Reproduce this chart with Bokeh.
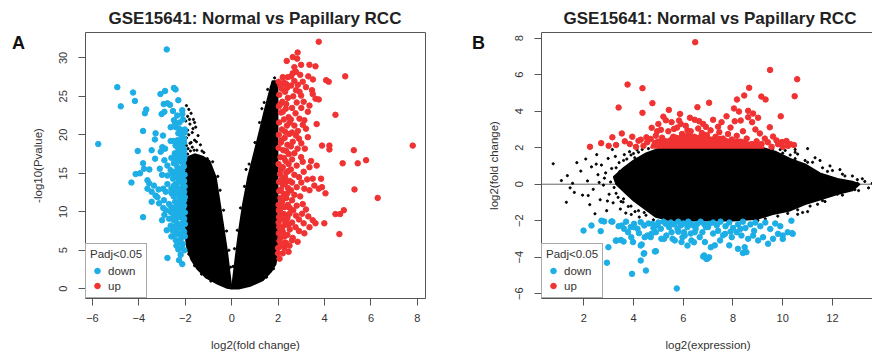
from bokeh.plotting import figure
from bokeh.models import Range1d, FixedTicker, Legend, LegendItem, Span, Div
from bokeh.layouts import row
from bokeh.embed import file_html
from bokeh.resources import INLINE

FONT = "Liberation Sans"
BLUE = "#1DAEE6"
RED = "#F03232"
TITLE = "GSE15641: Normal vs Papillary RCC"

# ---------------- Panel A: volcano plot ----------------
a_x_ticks = [-6, -4, -2, 0, 2, 4, 6, 8]
a_y_ticks = [0, 5, 10, 15, 20, 25, 30]
a_xlabel = "log2(fold change)"
a_ylabel = "-log10(Pvalue)"

a_blue = [(-2.80, 31.1), (-4.93, 26.2), (-4.25, 25.5), (-4.17, 24.4), (-4.78, 23.7), (-3.07, 25.3), (-2.87, 25.7),
          (-2.49, 26.1), (-2.42, 25.9), (-2.30, 24.5), (-2.93, 24.0), (-2.77, 24.1), (-2.66, 23.9), (-3.68, 23.3),
          (-3.74, 22.8), (-3.02, 22.7), (-2.90, 23.0), (-2.53, 23.1), (-2.13, 23.2), (-2.13, 22.7), (-2.49, 21.9),
          (-2.44, 21.5), (-2.63, 21.0), (-2.41, 21.0), (-2.27, 20.8), (-2.13, 20.6), (-2.02, 20.7), (-3.82, 20.5),
          (-3.28, 20.2), (-3.31, 19.4), (-2.96, 19.9), (-2.63, 19.2), (-2.51, 19.2), (-2.34, 19.3), (-2.20, 19.3),
          (-2.16, 18.6), (-5.75, 18.8), (-4.05, 17.9), (-3.45, 18.0), (-2.99, 18.4), (-2.87, 18.2), (-3.06, 17.8),
          (-2.30, 18.2), (-2.18, 17.9), (-2.08, 17.6), (-2.34, 17.4), (-2.16, 17.1), (-2.05, 16.8), (-2.27, 16.6),
          (-2.10, 16.3), (-3.82, 16.3), (-3.78, 15.6), (-3.95, 15.0), (-4.14, 14.9), (-4.32, 13.8), (-3.63, 14.1),
          (-3.56, 13.7), (-3.35, 13.4), (-3.63, 13.0), (-3.45, 12.6), (-3.28, 12.1), (-3.20, 11.9), (-3.45, 11.3),
          (-3.13, 11.1), (-3.82, 9.3), (-2.77, 16.0), (-2.63, 15.4), (-2.49, 16.3), (-2.34, 15.8), (-2.77, 14.7),
          (-2.53, 14.3), (-2.27, 15.0), (-2.13, 15.4), (-2.77, 13.6), (-2.49, 13.4), (-2.27, 13.9), (-2.13, 13.2),
          (-2.84, 12.6), (-2.59, 12.4), (-2.34, 12.6), (-2.13, 12.1), (-2.92, 11.5), (-2.70, 11.0), (-2.44, 11.3),
          (-2.23, 10.8), (-2.05, 11.5), (-2.84, 10.2), (-2.63, 9.97), (-2.38, 10.2), (-2.16, 9.75), (-2.70, 9.1),
          (-2.49, 8.9), (-2.27, 9.3), (-2.05, 9.1), (-2.63, 8.2), (-2.41, 7.8), (-2.20, 8.2), (-2.49, 6.9),
          (-2.27, 7.1), (-2.05, 7.4), (-2.41, 6.3), (-2.20, 6.5), (-2.77, 4.0), (-2.27, 3.7), (-2.13, 3.2),
          (-2.60, 17.0), (-2.40, 16.9), (-2.55, 14.9), (-2.40, 14.6), (-2.20, 14.4), (-2.05, 14.0), (-2.60, 13.0),
          (-2.35, 13.1), (-2.05, 12.6), (-2.50, 12.0), (-2.25, 11.7), (-2.60, 10.6), (-2.40, 10.6), (-2.10, 10.4),
          (-2.50, 9.5), (-2.30, 9.9), (-2.10, 8.6), (-2.35, 8.5), (-2.55, 7.6), (-2.15, 7.0), (-2.30, 6.0),
          (-2.10, 5.8), (-2.15, 5.3), (-2.30, 5.1), (-2.95, 13.0), (-3.00, 14.8), (-3.10, 15.6), (-2.90, 16.7),
          (-3.30, 16.9), (-3.55, 15.5), (-2.95, 10.5), (-3.00, 8.9), (-2.80, 7.6), (-2.60, 6.8), (-2.90, 9.6),
          (-3.15, 12.9), (-2.15, 19.8), (-2.05, 19.0), (-2.25, 21.6), (-2.10, 22.0), (-2.35, 22.5), (-2.05, 18.0),
          (-2.02, 20.3), (-2.15, 20.0), (-2.30, 20.2), (-2.05, 19.5), (-2.28, 18.8), (-2.42, 18.6), (-2.10, 18.3),
          (-2.25, 17.8), (-2.45, 17.6), (-2.03, 17.2), (-2.22, 16.9), (-2.38, 16.4), (-2.06, 15.9), (-2.20, 15.6),
          (-2.43, 15.2), (-2.03, 14.8), (-2.30, 14.3), (-2.12, 13.7), (-2.40, 13.6), (-2.03, 13.3), (-2.25, 12.9),
          (-2.43, 12.6), (-2.10, 12.3), (-2.30, 12.1), (-2.02, 11.9), (-2.18, 11.3), (-2.35, 11.0), (-2.05, 10.8),
          (-2.25, 10.3), (-2.45, 10.0), (-2.02, 9.9), (-2.20, 9.5), (-2.38, 9.2), (-2.10, 9.1), (-2.02, 8.4),
          (-2.25, 8.0), (-2.45, 8.1), (-2.10, 7.6), (-2.35, 7.3), (-2.02, 6.8), (-2.20, 6.1), (-2.38, 5.6),
          (-2.04, 5.0), (-2.20, 4.4)]

a_red = [(3.75, 32.1), (2.84, 30.7), (2.63, 30.1), (2.82, 29.9), (2.37, 29.6), (3.35, 29.1), (3.61, 28.9),
         (2.70, 28.8), (2.99, 29.1), (2.77, 28.2), (2.63, 28.0), (2.56, 27.6), (4.89, 27.6), (2.20, 27.5),
         (2.41, 27.5), (3.06, 26.9), (4.07, 27.1), (4.18, 26.9), (2.10, 26.4), (2.35, 26.6), (2.56, 26.4),
         (2.77, 25.8), (3.46, 25.8), (3.49, 25.3), (2.92, 25.6), (2.99, 25.1), (3.61, 24.7), (3.75, 24.6),
         (3.35, 23.8), (3.28, 23.0), (4.47, 22.6), (2.92, 22.1), (3.13, 21.9), (3.06, 21.3), (3.66, 21.4),
         (3.28, 19.7), (2.77, 19.9), (2.63, 19.1), (3.89, 18.6), (4.21, 18.6), (4.21, 18.1), (5.26, 18.0),
         (7.80, 18.6), (2.84, 18.2), (2.99, 17.1), (3.42, 16.6), (4.78, 16.3), (5.43, 16.3), (5.79, 16.7),
         (3.66, 16.0), (3.06, 16.5), (3.35, 15.8), (3.49, 14.3), (3.85, 14.3), (3.89, 13.2), (3.75, 13.0),
         (4.04, 12.4), (3.56, 13.4), (3.13, 13.0), (3.35, 12.8), (5.29, 12.9), (6.29, 11.8), (3.06, 11.0),
         (3.03, 9.75), (2.77, 9.5), (2.49, 9.75), (3.49, 8.9), (3.61, 8.5), (3.99, 8.5), (3.35, 8.0),
         (4.47, 9.7), (4.67, 9.7), (4.83, 10.2), (4.64, 7.1), (3.13, 7.2), (2.84, 6.1), (2.63, 6.6),
         (2.49, 5.6), (2.27, 5.3), (2.00, 4.6), (2.06, 3.9), (2.70, 27.0), (2.85, 26.5), (2.65, 25.0),
         (2.80, 24.2), (2.60, 23.5), (2.75, 22.8), (2.55, 22.0), (2.70, 21.2), (2.85, 20.5), (2.60, 20.3),
         (2.90, 19.5), (2.55, 18.5), (2.70, 17.6), (2.60, 16.8), (2.80, 16.0), (2.55, 15.5), (2.70, 14.8),
         (2.90, 14.5), (2.60, 13.8), (2.80, 13.2), (2.55, 12.8), (2.70, 12.2), (2.95, 12.0), (2.60, 11.5),
         (2.80, 10.8), (2.50, 10.5), (2.65, 10.2), (2.40, 9.2), (2.90, 9.0), (2.60, 8.6), (2.30, 8.3),
         (2.75, 8.0), (2.50, 7.7), (2.20, 7.4), (2.90, 7.5), (2.40, 7.0), (2.10, 6.6), (2.60, 6.3),
         (2.30, 6.0), (2.10, 5.6), (2.45, 4.8), (2.20, 4.6), (3.20, 10.3), (3.30, 9.4), (3.10, 8.5),
         (3.25, 14.2), (3.10, 15.2), (3.00, 13.8), (3.20, 20.8), (3.00, 23.5), (3.10, 24.3), (3.20, 26.2),
         (2.95, 27.8), (3.30, 27.6), (3.50, 27.2), (3.00, 18.9), (3.15, 18.2), (2.10, 9.8), (2.20, 9.0),
         (2.05, 8.0), (2.15, 11.2), (2.35, 11.8), (2.02, 26.9), (2.15, 26.0), (2.30, 25.6), (2.05, 25.2),
         (2.42, 24.8), (2.18, 24.3), (2.03, 23.7), (2.33, 23.4), (2.12, 22.9), (2.45, 22.3), (2.25, 22.0),
         (2.04, 21.6), (2.38, 21.2), (2.16, 20.7), (2.48, 20.1), (2.03, 20.0), (2.28, 19.6), (2.12, 19.0),
         (2.40, 18.7), (2.02, 18.3), (2.22, 18.0), (2.46, 17.5), (2.10, 17.1), (2.32, 16.6), (2.02, 16.2),
         (2.20, 15.8), (2.44, 15.3), (2.08, 14.9), (2.30, 14.5), (2.04, 13.9), (2.20, 13.5), (2.42, 13.1),
         (2.05, 12.7), (2.26, 12.3), (2.10, 11.8), (2.02, 10.9), (2.28, 10.6), (2.03, 10.2), (2.25, 9.7),
         (2.04, 9.3), (2.35, 8.8), (2.02, 8.6), (2.18, 8.0), (2.03, 7.2), (2.28, 6.8), (2.06, 6.2),
         (2.35, 5.9), (2.00, 5.3), (2.25, 26.8), (2.38, 26.1), (2.10, 24.0), (2.35, 24.0), (2.20, 23.0),
         (2.50, 21.6), (2.30, 20.4), (2.15, 19.3), (2.35, 17.9), (2.25, 17.0), (2.45, 16.2), (2.12, 15.5),
         (2.35, 15.1), (2.15, 14.2), (2.50, 14.0), (2.32, 13.8), (2.12, 12.9), (2.40, 12.4), (2.18, 11.4),
         (2.42, 10.9), (2.10, 10.4), (2.15, 7.6), (2.45, 8.3)]

a_black = [(-1.95, 23.8), (-1.85, 23.3), (-1.75, 22.8), (-1.90, 22.4), (-1.65, 22.0), (-1.98, 21.8), (-1.80, 21.4),
           (-1.55, 21.0), (-1.90, 20.6), (-1.70, 20.3), (-1.45, 19.9), (-1.95, 19.6), (-1.60, 19.3), (-1.80, 18.9),
           (-1.35, 18.7), (-1.70, 18.4), (-1.50, 18.0), (-1.20, 17.7), (-1.90, 17.5), (-1.40, 17.2), (-1.05, 16.9),
           (-1.60, 16.7), (-1.30, 16.4), (-1.75, 19.0), (-1.60, 21.6), (-1.85, 20.0), (-0.12, 5.0), (-0.22, 7.5),
           (-0.35, 10.2), (-0.50, 12.8), (-0.60, 14.6), (-0.82, 16.5), (-0.05, 2.8), (0.12, 5.2), (0.24, 7.6),
           (0.38, 10.5), (0.55, 13.3), (0.75, 16.2), (1.00, 19.0), (1.20, 21.6), (1.40, 24.2), (0.06, 2.9),
           (0.62, 15.5), (1.95, 3.8), (1.80, 2.6), (1.50, 1.5), (-1.85, 4.5), (-1.60, 3.0), (-1.30, 1.9),
           (-0.90, 1.0), (1.85, 27.4), (1.70, 26.2), (1.55, 25.9), (1.30, 23.4), (-1.88, 18.2), (-1.62, 18.0),
           (-1.78, 17.9), (-1.52, 19.1), (-1.28, 17.9), (-1.95, 18.6), (-1.67, 20.8), (-1.82, 22.0)]

a_left_arm = [(-2.0, 17.0), (-2.0, 7.0), (-1.92, 5.2), (-1.75, 3.8), (-1.5, 2.6), (-1.1, 1.4), (-0.6, 0.6),
              (-0.2, 0.1), (0.0, 0.0), (-0.08, 2.0), (-0.2, 5.0), (-0.35, 8.0), (-0.5, 11.0), (-0.68, 14.5),
              (-0.95, 16.6), (-1.25, 17.2), (-1.6, 17.5)]
a_right_arm = [(0.0, 0.0), (0.08, 2.0), (0.2, 5.0), (0.33, 8.0), (0.48, 11.0), (0.7, 14.5), (0.95, 17.5),
               (1.2, 20.5), (1.4, 23.0), (1.6, 25.3), (1.75, 27.0), (1.95, 27.0), (1.98, 26.0), (1.98, 5.0),
               (1.9, 3.2), (1.7, 2.2), (1.35, 1.1), (0.8, 0.35), (0.3, 0.0)]

# ---------------- Panel B: MA plot ----------------
b_x_ticks = [2, 4, 6, 8, 10, 12]
b_y_ticks = [-6, -4, -2, 0, 2, 4, 6, 8]
b_xlabel = "log2(expression)"
b_ylabel = "log2(fold change)"

b_red = [(6.48, 7.78), (3.76, 5.46), (4.36, 5.26), (4.76, 4.44), (3.40, 4.20), (4.36, 3.91), (5.42, 4.07),
         (5.87, 3.85), (6.57, 4.22), (7.04, 4.46), (5.20, 3.70), (5.30, 3.50), (5.53, 3.40), (5.83, 3.49),
         (6.27, 3.64), (6.46, 3.53), (6.64, 3.45), (4.73, 3.09), (5.10, 2.98), (5.63, 3.03), (6.17, 2.95),
         (6.91, 3.14), (3.15, 2.57), (3.53, 2.78), (4.52, 2.57), (4.69, 2.48), (4.90, 2.66), (4.20, 2.38),
         (4.29, 2.44), (2.25, 2.05), (9.49, 6.26), (10.58, 5.75), (10.48, 4.82), (8.65, 5.28), (8.45, 4.86),
         (8.16, 4.64), (9.14, 4.80), (9.31, 4.64), (8.04, 4.15), (8.24, 3.98), (8.61, 4.02), (8.81, 3.87),
         (9.92, 3.72), (7.20, 3.53), (7.54, 3.40), (7.74, 3.72), (8.07, 3.45), (8.31, 3.49), (8.61, 3.67),
         (8.77, 3.40), (9.01, 3.64), (9.48, 3.12), (9.61, 2.61), (9.08, 2.78), (9.28, 2.50), (9.97, 2.31),
         (10.15, 2.37), (10.32, 2.19), (10.21, 2.10), (9.81, 2.19), (4.40, 2.10), (4.55, 2.30), (4.95, 2.90),
         (5.15, 2.55), (5.40, 2.90), (5.60, 2.60), (5.75, 3.10), (5.95, 2.75), (6.10, 3.20), (6.30, 2.90),
         (6.45, 2.60), (6.60, 3.05), (6.75, 2.80), (6.95, 2.70), (7.10, 2.95), (7.30, 2.60), (7.45, 2.85),
         (7.60, 2.50), (7.80, 2.75), (7.95, 2.45), (8.15, 2.65), (8.35, 2.30), (8.55, 2.50), (8.75, 2.20),
         (8.95, 2.35), (9.15, 2.20), (9.40, 2.30), (9.55, 2.05), (9.75, 2.40), (10.00, 2.05), (10.45, 2.15),
         (3.85, 2.20), (4.10, 2.05), (3.95, 2.60), (3.65, 2.35), (2.70, 2.25), (3.00, 2.10), (5.00, 3.30),
         (5.90, 3.30), (6.80, 3.30), (7.40, 3.15), (7.90, 3.10), (8.40, 2.90), (8.90, 3.00), (3.30, 2.15)]

b_blue = [(1.99, -2.54), (2.31, -2.26), (2.68, -2.57), (2.82, -2.04), (3.15, -2.05), (2.99, -3.45), (2.93, -4.30),
          (3.29, -3.09), (3.49, -3.05), (3.60, -3.14), (3.53, -2.26), (3.62, -2.44), (3.78, -2.63), (3.89, -2.35),
          (4.02, -2.17), (4.16, -2.44), (4.22, -2.68), (4.29, -2.08), (4.43, -2.26), (4.56, -2.81), (4.69, -2.90),
          (4.90, -2.63), (4.76, -2.17), (4.96, -2.26), (5.10, -2.44), (5.30, -2.17), (5.43, -2.35), (5.53, -2.63),
          (5.63, -2.20), (5.77, -2.44), (5.90, -2.26), (6.03, -2.63), (6.17, -2.35), (6.30, -2.17), (6.50, -2.44),
          (6.57, -2.17), (6.77, -2.63), (6.91, -2.35), (7.04, -2.17), (4.29, -3.36), (4.43, -3.78), (4.29, -4.18),
          (4.90, -3.67), (3.94, -4.91), (5.74, -5.71), (6.17, -3.36), (6.84, -3.90), (6.97, -4.08), (5.23, -2.99),
          (5.57, -2.99), (5.97, -2.90), (6.43, -3.18), (2.71, -2.00), (3.11, -2.04), (3.31, -3.08), (4.41, -3.81),
          (4.50, -4.73), (4.86, -3.68), (4.33, -3.30), (3.98, -3.17), (3.91, -2.90), (4.45, -2.90), (4.72, -2.72),
          (5.12, -2.99), (5.32, -2.81), (5.66, -3.08), (5.93, -3.17), (6.06, -2.81), (6.33, -3.08), (6.46, -2.63),
          (6.66, -2.90), (6.87, -3.17), (6.80, -3.96), (6.93, -4.09), (7.04, -4.00), (7.11, -3.45), (7.27, -3.35),
          (7.85, -3.35), (7.48, -3.08), (8.20, -3.54), (8.40, -3.77), (8.47, -3.45), (8.54, -3.72), (7.68, -2.72),
          (7.95, -2.90), (8.15, -2.63), (8.34, -2.81), (8.61, -2.99), (8.81, -2.81), (9.01, -3.08), (9.21, -2.90),
          (9.41, -3.26), (9.61, -2.99), (9.81, -2.72), (10.00, -2.81), (10.20, -2.63), (10.40, -2.72),
          (10.00, -3.00), (10.38, -2.68), (10.35, -2.00), (5.20, -2.05), (5.50, -2.10), (5.80, -2.05),
          (6.00, -2.15), (6.20, -2.05), (6.40, -2.25), (6.70, -2.05), (6.85, -2.20), (7.00, -2.35), (7.20, -2.10),
          (7.35, -2.25), (7.50, -2.05), (7.70, -2.30), (7.85, -2.10), (8.00, -2.40), (8.20, -2.20), (8.40, -2.05),
          (8.50, -2.40), (8.70, -2.20), (8.90, -2.10), (9.10, -2.30), (9.30, -2.10), (9.50, -2.45), (9.70, -2.15),
          (9.90, -2.30), (3.70, -2.05), (4.00, -2.35), (4.60, -2.15), (4.80, -2.40), (5.00, -2.10), (7.40, -2.55),
          (7.90, -2.60), (8.30, -2.45), (7.20, -2.70), (6.30, -2.70), (5.80, -2.60), (7.60, -2.80), (8.85, -2.55),
          (3.40, -2.30)]

b_black = [(0.77, 1.12), (1.30, -0.99), (1.34, 0.47), (1.55, 0.05), (1.62, -0.45), (1.88, 0.72), (1.95, -0.60),
           (2.08, 1.38), (2.15, 0.18), (2.24, -1.12), (2.31, 0.95), (2.38, -0.28), (2.52, 1.62), (2.57, 0.52),
           (2.66, -0.85), (2.71, 1.05), (2.79, -0.05), (2.83, 0.33), (2.92, -1.45), (2.98, 1.41), (3.02, -0.55),
           (3.08, 0.12), (3.12, 0.86), (3.18, -1.02), (3.22, -0.18), (3.27, 1.52), (3.31, 0.38), (3.38, -0.72),
           (3.42, 1.18), (3.47, -1.36), (3.52, 0.64), (3.58, -0.98), (3.63, 1.62), (3.69, -1.58), (3.73, 1.38),
           (3.79, -1.22), (3.84, 1.78), (3.91, -1.66), (4.00, 1.68), (4.06, -1.50), (4.14, 1.88), (4.23, -1.80),
           (4.35, 1.90), (4.43, -1.55), (2.45, -1.62), (1.72, 1.18), (2.18, -0.62), (2.62, 0.10), (2.88, 0.62),
           (1.45, -0.20), (2.95, -0.92), (3.55, 0.10), (3.15, 1.90), (2.50, 1.10), (1.10, 0.20),
           (3.30, 0.90), (3.60, 1.30), (3.90, 1.60), (4.20, 1.75), (4.60, 1.95), (3.45, 0.70), (4.05, 1.45),
           (3.30, -0.50), (3.60, -0.80), (3.90, -1.20), (4.20, -1.45), (4.50, -1.70), (4.80, -1.95), (3.50, -0.95),
           (9.30, -1.90), (9.80, -1.75), (10.20, -1.60), (10.60, -1.40), (11.10, -1.20), (11.70, -0.95),
           (12.40, -0.60), (9.00, -1.98), (9.60, 1.95), (10.00, 1.70), (10.50, 1.40), (11.00, 1.20),
           (11.80, 0.70), (12.50, 0.45), (13.00, 0.25), (11.20, 1.20), (11.60, 0.90), (12.00, 0.75),
           (12.40, 0.55), (12.80, 0.45), (13.20, 0.30), (13.30, 0.15), (12.90, -0.30), (12.20, -0.55),
           (11.60, -0.90), (11.00, -1.50), (10.60, -1.65), (10.90, 1.30), (10.30, 1.60), (10.10, 1.85),
           (10.60, 1.65), (9.90, 1.90), (11.40, -1.10), (12.60, 0.10), (13.00, 0.05), (11.90, 1.00),
           (10.80, -1.55), (10.50, 1.75), (11.30, 1.45), (12.30, 0.80), (10.50, 1.90), (11.00, 1.95),
           (11.50, 1.30), (13.05, -0.35), (13.60, 0.05), (13.45, -0.20)]

b_cloud = [(3.2, 0.4), (3.6, 0.9), (4.0, 1.3), (4.5, 1.7), (5.0, 1.95), (5.5, 2.0), (9.2, 2.0), (9.7, 1.8),
           (10.3, 1.4), (10.9, 1.1), (11.5, 0.6), (12.2, 0.3), (12.8, 0.15), (13.1, 0.0), (12.8, -0.35),
           (12.2, -0.55), (11.5, -0.85), (10.9, -1.1), (10.3, -1.45), (9.6, -1.65), (9.0, -1.9), (8.0, -2.0),
           (5.5, -2.0), (4.9, -1.8), (4.5, -1.4), (4.0, -0.9), (3.6, -0.4), (3.3, 0.0)]
b_red_band = [(4.7, 2.0), (4.8, 2.35), (5.1, 2.5), (5.4, 2.45), (5.6, 2.7), (5.9, 2.6), (6.2, 2.8), (6.5, 2.6),
              (6.8, 2.75), (7.1, 2.55), (7.5, 2.6), (7.9, 2.4), (8.3, 2.45), (8.7, 2.25), (9.0, 2.2), (9.25, 2.0)]

legend_title = "Padj<0.05"
legend_labels = ["down", "up"]
panel_letters = ["A", "B"]


def xs(pts):
    return [p[0] for p in pts]


def ys(pts):
    return [p[1] for p in pts]


def make_panel(xr, yr, xt, yt, xlabel, ylabel, fw, bl, br, title_offset, ylab_standoff):
    p = figure(frame_width=fw, frame_height=266, x_range=Range1d(*xr), y_range=Range1d(*yr),
               output_backend="svg", toolbar_location=None, title=TITLE,
               min_border_left=bl, min_border_right=br, min_border_top=32, min_border_bottom=56)
    p.title.align = "left"
    p.title.offset = title_offset
    p.title.standoff = 9
    p.title.text_font = FONT
    p.title.text_font_size = "17px"
    p.title.text_font_style = "bold"
    p.title.text_color = "#222222"
    p.xgrid.visible = False
    p.ygrid.visible = False
    p.outline_line_color = "#555555"
    p.outline_line_width = 1
    p.xaxis.ticker = FixedTicker(ticks=xt)
    p.yaxis.ticker = FixedTicker(ticks=yt)
    p.xaxis.axis_label = xlabel
    p.yaxis.axis_label = ylabel
    for ax in (p.xaxis[0], p.yaxis[0]):
        ax.axis_line_color = None
        ax.major_tick_line_color = "#555555"
        ax.major_tick_out = 7
        ax.major_tick_in = 0
        ax.minor_tick_line_color = None
        ax.major_label_text_font = FONT
        ax.major_label_text_font_size = "11px"
        ax.major_label_text_color = "#333333"
        ax.major_label_standoff = 8
        ax.axis_label_text_font = FONT
        ax.axis_label_text_font_size = "11.5px"
        ax.axis_label_text_font_style = "normal"
        ax.axis_label_text_color = "#333333"
    p.xaxis.axis_label_standoff = 14
    p.yaxis.major_label_standoff = 11
    p.yaxis.axis_label_standoff = ylab_standoff
    p.yaxis.major_label_orientation = "parallel"
    return p


def add_legend(p, blue_r, red_r):
    leg = Legend(items=[LegendItem(label=legend_labels[0], renderers=[blue_r]),
                        LegendItem(label=legend_labels[1], renderers=[red_r])],
                 title=legend_title, location=(0, 0))
    leg.margin = 0
    leg.padding = 4
    leg.spacing = 0
    leg.label_height = 15
    leg.glyph_height = 15
    leg.glyph_width = 14
    leg.label_standoff = 4
    leg.label_text_font = FONT
    leg.label_text_font_size = "11.5px"
    leg.label_text_color = "#333333"
    leg.title_text_font = FONT
    leg.title_text_font_size = "11.5px"
    leg.title_text_font_style = "normal"
    leg.title_text_color = "#333333"
    leg.title_standoff = 3
    leg.border_line_color = "#555555"
    leg.border_line_width = 1
    leg.background_fill_color = "white"
    leg.background_fill_alpha = 1.0
    p.add_layout(leg)


def letter_div(letter, width, pad_left):
    html = ('<div style="padding:34px 0 0 %dpx;font-family:\'Liberation Sans\',Arial,sans-serif;'
            'font-weight:bold;font-size:18px;line-height:18px;color:#111111">%s</div>' % (pad_left, letter))
    return Div(text=html, width=width, height=60, margin=0)


# Panel A
pa = make_panel((-6.30, 8.35), (-1.27, 33.3), a_x_ticks, a_y_ticks, a_xlabel, a_ylabel,
                340, 55, 27, 23, 13)
pa.patch(xs(a_left_arm), ys(a_left_arm), fill_color="black", line_color="black", line_width=1.5)
pa.patch(xs(a_right_arm), ys(a_right_arm), fill_color="black", line_color="black", line_width=1.5)
pa.scatter(xs(a_black), ys(a_black), size=2.2, color="black")
ra_b = pa.scatter(xs(a_blue), ys(a_blue), size=5.5, color=BLUE)
ra_r = pa.scatter(xs(a_red), ys(a_red), size=5.5, color=RED)
add_legend(pa, ra_b, ra_r)

# Panel B
pb = make_panel((0.30, 13.69), (-6.26, 8.31), b_x_ticks, b_y_ticks, b_xlabel, b_ylabel,
                333, 55, 2, 22, 13)
pb.add_layout(Span(location=0, dimension="width", line_color="#666666", line_width=1, level="underlay"))
pb.patch(xs(b_cloud), ys(b_cloud), fill_color="black", line_color="black", line_width=1.5)
pb.scatter(xs(b_black), ys(b_black), size=2.2, color="black")
pb.patch(xs(b_red_band), ys(b_red_band), fill_color=RED, line_color=RED, line_width=2)
rb_b = pb.scatter(xs(b_blue), ys(b_blue), size=5.5, color=BLUE)
rb_r = pb.scatter(xs(b_red), ys(b_red), size=5.5, color=RED)
add_legend(pb, rb_b, rb_r)

layout = row(letter_div(panel_letters[0], 28, 12), pa, letter_div(panel_letters[1], 32, 20), pb)
open("out.html", "w").write(file_html(layout, INLINE))
